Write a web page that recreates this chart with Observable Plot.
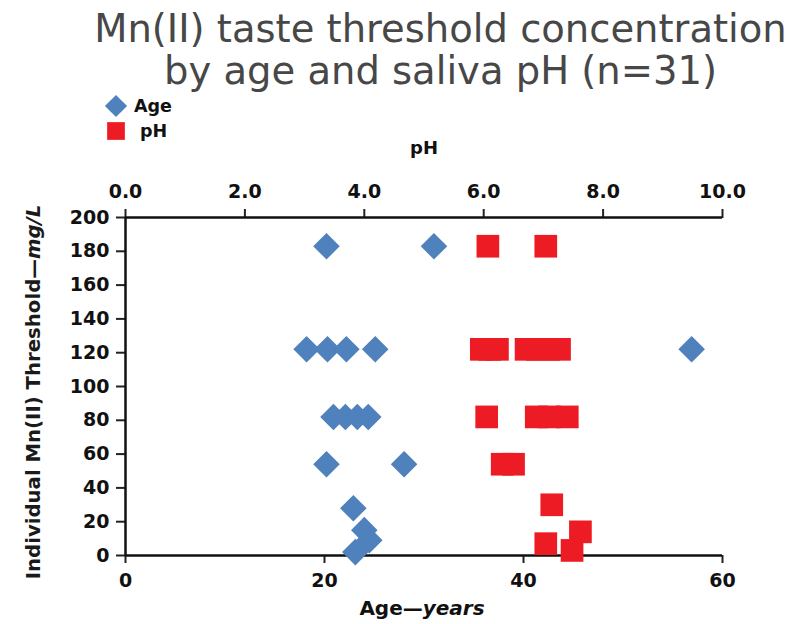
<!DOCTYPE html>
<html>
<head>
<meta charset="utf-8">
<script src="https://cdn.jsdelivr.net/npm/d3@7"></script>
<script src="https://cdn.jsdelivr.net/npm/@observablehq/plot@0.6"></script>
<style>
  html, body { margin: 0; padding: 0; background: #fff; }
  #wrap { width: 807px; height: 624px; position: relative; overflow: hidden; }
  #title {
    height: 95px; box-sizing: border-box; padding-top: 8px; padding-left: 74px;
    text-align: center; font-family: "Comic Sans MS", "DejaVu Sans", sans-serif;
    font-size: 38.5px; line-height: 42px; color: #474747; white-space: nowrap;
  }
  svg { display: block; }
</style>
</head>
<body>
<div id="wrap">
  <div id="title">Mn(II) taste threshold concentration<br>by age and saliva pH (n=31)</div>
  <div id="chart"></div>
</div>
<script>
// Threshold by subject age (years)
const ageYears     = [20.2, 31.0, 18.2, 20.3, 22.2, 25.1, 56.9, 20.9, 22.1, 23.3, 24.4, 20.2, 28.0, 22.9, 24.0, 24.5, 23.1];
const ageThreshold = [183, 183, 122, 122, 122, 122, 122, 82, 82, 82, 82, 54, 54, 28, 15, 9, 2];

// Threshold by saliva pH
const phValues     = [6.07, 7.04, 5.96, 6.10, 6.23, 6.71, 6.90, 7.09, 7.27, 6.05, 6.88, 7.10, 7.40, 6.31, 6.50, 7.14, 7.04, 7.62, 7.48];
const phThreshold  = [183, 183, 122, 122, 122, 122, 122, 122, 122, 82, 82, 82, 82, 54, 54, 30, 7, 14, 3];

// Axis ticks
const ageTicks = [0, 20, 40, 60];
const phTicks = [0, 2, 4, 6, 8, 10];
const thresholdTicks = [0, 20, 40, 60, 80, 100, 120, 140, 160, 180, 200];

const seriesNames = ["Age", "pH"];
const seriesColors = ["#4f81bd", "#ed1c24"];

// pH 0–10 shares the horizontal extent of age 0–60
const PH_SCALE = 60 / 10;

const ageData = ageYears.map((a, i) => ({x: a, y: ageThreshold[i]}));
const phData = phValues.map((p, i) => ({x: p * PH_SCALE, y: phThreshold[i]}));

// Rotated-square and square symbols sized from the dot radius
const diamondSymbol = {draw(ctx, size) {
  const r = Math.sqrt(size) / 2;
  ctx.moveTo(0, -r); ctx.lineTo(r, 0); ctx.lineTo(0, r); ctx.lineTo(-r, 0); ctx.closePath();
}};
const squareSymbol = {draw(ctx, size) {
  const s = Math.sqrt(size);
  ctx.rect(-s / 2, -s / 2, s, s);
}};

const font = "'DejaVu Sans', Verdana, sans-serif";
const axisFont = {fontFamily: font, fontWeight: "bold", fontSize: "19px", fill: "#111"};

const plot = Plot.plot({
  width: 807,
  height: 529,
  marginTop: 122,
  marginBottom: 69,
  marginLeft: 125,
  marginRight: 85,
  style: {fontFamily: font, background: "#fff", overflow: "visible"},
  x: {domain: [0, 60]},
  y: {domain: [0, 200]},
  marks: [
    Plot.axisX({anchor: "bottom", ticks: ageTicks, tickSize: 8, tickPadding: 10, label: null,
      stroke: "#222", strokeWidth: 2, ...axisFont}),
    Plot.axisX({anchor: "top", ticks: phTicks.map(p => p * PH_SCALE), tickFormat: d => (d / PH_SCALE).toFixed(1),
      tickSize: 9, tickPadding: 11, label: null, stroke: "#222", strokeWidth: 2, ...axisFont}),
    Plot.axisY({ticks: thresholdTicks, tickSize: 9, tickPadding: 7, label: null,
      stroke: "#222", strokeWidth: 2, ...axisFont}),
    Plot.ruleY([0], {stroke: "#111", strokeWidth: 2.5}),
    Plot.ruleY([200], {stroke: "#111", strokeWidth: 2.5}),
    Plot.ruleX([0], {stroke: "#111", strokeWidth: 2.5}),
    Plot.dot(ageData, {x: "x", y: "y", r: 15, symbol: diamondSymbol, fill: seriesColors[0], stroke: "none"}),
    Plot.dot(phData, {x: "x", y: "y", r: 12.8, symbol: squareSymbol, fill: seriesColors[1], stroke: "none"})
  ]
});

document.getElementById("chart").appendChild(plot);

// Axis titles and legend drawn into the same SVG
const svg = d3.select(plot);

svg.append("text")
  .attr("x", 424).attr("y", 59)
  .attr("text-anchor", "middle")
  .attr("font-family", font).attr("font-weight", "bold").attr("font-size", 18).attr("fill", "#111")
  .text("pH");

const xt = svg.append("text")
  .attr("x", 422).attr("y", 520)
  .attr("text-anchor", "middle")
  .attr("font-family", font).attr("font-weight", "bold").attr("font-size", 20).attr("fill", "#111");
xt.append("tspan").text("Age—");
xt.append("tspan").attr("font-style", "italic").text("years");

const yt = svg.append("text")
  .attr("transform", "translate(40,297) rotate(-90)")
  .attr("text-anchor", "middle")
  .attr("font-family", font).attr("font-weight", "bold").attr("font-size", 19.7).attr("fill", "#1a1a1a");
yt.append("tspan").text("Individual Mn(II) Threshold—");
yt.append("tspan").attr("font-style", "italic").text("mg/L");

const legend = svg.append("g")
  .attr("font-family", font).attr("font-weight", "bold").attr("font-size", 17.5).attr("fill", "#111")
  .attr("text-anchor", "start");
const legendSymbols = [diamondSymbol, squareSymbol];
const legendSizes = [Math.PI * 12.5 * 12.5, Math.PI * 10 * 10];
const legendTextX = [134, 140];
seriesNames.forEach((name, i) => {
  const cy = 11 + i * 25;
  legend.append("path")
    .attr("transform", `translate(116,${cy})`)
    .attr("d", d3.symbol(legendSymbols[i], legendSizes[i])())
    .attr("fill", seriesColors[i]);
  legend.append("text").attr("x", legendTextX[i]).attr("y", cy + 6).attr("text-anchor", "start").text(name);
});
</script>
</body>
</html>
